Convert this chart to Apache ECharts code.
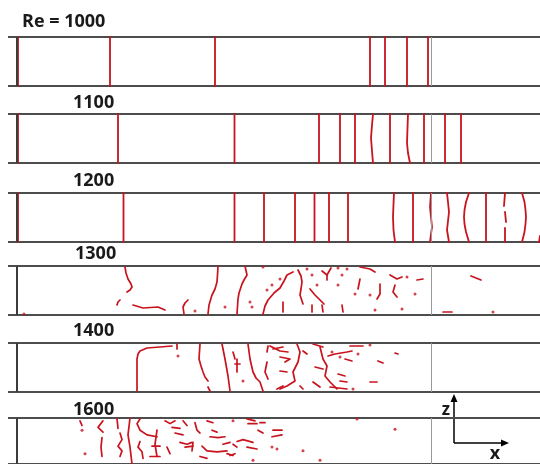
<!DOCTYPE html>
<html>
<head>
<meta charset="utf-8">
<script src="https://cdn.jsdelivr.net/npm/echarts@6/dist/echarts.min.js"></script>
<style>html,body{margin:0;padding:0;background:#fff}#c{width:540px;height:464px}</style>
</head>
<body>
<div id="c"></div>
<script>
// Panel labels (Reynolds numbers)
const panelLabels = ['Re = 1000', '1100', '1200', '1300', '1400', '1600'];
// Streamwise extent of the visible domain (x units), wall at 0, plate end at 414
const xRange = [-9, 523];
const zRange = [0, 49];
const wallX = 0;
const plateEndX = 414;

// Re = 1000 : straight vortex lines (x positions)
const re1000X = [1, 93, 198, 353, 368, 390, 411];
// Re = 1100
const re1100X = [1, 101, 217.5, 302, 323, 338, 373, 407, 428, 444];
const re1100Wavy = [
  [[356, 0], [355, 12], [354, 25], [355, 38], [356, 49]],
  [[393, 0], [391, 10], [390, 20], [390.5, 35], [391, 49]]
];
// Re = 1200
const re1200X = [1, 106.5, 217.5, 247, 278, 297.5, 312, 331, 396, 469];
const re1200Wavy = [
  [[378, 0], [376.5, 12], [376, 25], [376.5, 38], [377, 49]],
  [[413, 0], [414, 8], [415, 15], [414, 25], [413, 35], [414, 49]],
  [[432, 0], [431, 6], [430, 12], [431, 21], [432, 30], [431, 40], [430, 49]],
  [[452, 0], [449, 10], [447.5, 18], [447, 25], [447.5, 32], [449, 40], [452, 49]],
  [[488, 0], [488, 14]], [[489, 20], [488, 30]], [[487, 36], [488, 49]],
  [[505, 0], [507.5, 10], [508.5, 18], [509, 25], [508.5, 32], [507.5, 40], [505, 49]],
  [[522, 0], [523, 6]]
];

// Re = 1300 : broken vortex segments
const re1300Segs = [
  [[108, 48], [109, 42], [111, 36], [114, 31], [115, 28], [113, 25], [110, 23]],
  [[103, 15], [101, 13], [100, 10]],
  [[116, 10], [126, 7], [141, 8], [148, 5]],
  [[171, 15], [168, 12], [166, 8], [167, 1]],
  [[201, 49], [200.5, 40], [200, 33], [198, 26], [195, 20], [192, 10], [191, 1]],
  [[228, 49], [230, 40], [227, 35], [225, 31], [222, 22], [221, 16], [220, 1]],
  [[246, 1], [248, 9], [251, 15], [257, 22], [263, 27], [267, 34], [270, 40], [276, 43]],
  [[281, 45], [284, 39], [285, 33], [284, 26], [283, 20], [286, 11]],
  [[266, 13], [266, 3]],
  [[293, 26], [298, 20], [307, 11]],
  [[305, 44], [310, 40], [314, 47]], [[310, 40], [310, 35]],
  [[343, 36], [341, 26]],
  [[343, 48], [353, 46], [358, 43]],
  [[363, 31], [363, 21], [360, 16]],
  [[373, 40], [380, 36], [385, 38]],
  [[378, 30], [376, 23], [380, 18]],
  [[400, 35], [406, 36]],
  [[295, 10], [295, 3]],
  [[305, 10], [306, 3]],
  [[325, 10], [326, 3]],
  [[426, 3], [435, 3]],
  [[454, 39], [464, 35]]
];
const re1300Dots = [[178, 4], [208, 8], [233, 13], [235, 8], [246, 48], [255, 30], [250, 25], [263, 36],
  [295, 40], [300, 30], [321, 47], [321, 30], [330, 46], [325, 40], [338, 21], [353, 20],
  [390, 38], [398, 21], [358, 5], [385, 6], [476, 3], [7, 1], [290, 46]];

// Re = 1400
const re1400Segs = [
  [[120, 1], [120, 33], [121, 38], [123, 41], [130, 44], [143, 45], [155, 46]],
  [[160, 48], [160, 43]],
  [[183, 48], [182, 33], [184, 26], [186, 20], [188, 15], [191, 11]],
  [[191, 5], [193, 1]],
  [[205, 48], [208, 33], [211, 16], [213, 1]],
  [[216, 40], [218, 33]], [[220, 33], [220, 20]], [[218, 28], [223, 28]],
  [[231, 48], [233, 33], [236, 20], [239, 14], [243, 10], [246, 1]],
  [[251, 46], [250, 40]],
  [[250, 30], [248, 20], [251, 13]],
  [[253, 46], [263, 41], [271, 40]],
  [[256, 43], [266, 45]],
  [[263, 21], [270, 20]],
  [[260, 3], [266, 6]],
  [[263, 35], [273, 33], [268, 30]],
  [[280, 48], [283, 40], [281, 30], [276, 20], [278, 11], [270, 6], [263, 3]],
  [[286, 41], [290, 38]],
  [[296, 48], [306, 45]],
  [[303, 45], [306, 33], [310, 26], [308, 16], [313, 10], [320, 3]],
  [[298, 25], [306, 23]],
  [[311, 36], [318, 38], [330, 40], [335, 41]],
  [[328, 33], [335, 31]],
  [[333, 46], [346, 46]],
  [[378, 39], [381, 38]],
  [[361, 31], [366, 29]],
  [[321, 18], [328, 16]],
  [[323, 11], [330, 10]],
  [[353, 10], [360, 10]],
  [[313, 5], [330, 3]],
  [[283, 6], [286, 3]],
  [[296, 10], [303, 5]]
];
const re1400Dots = [[161, 36], [226, 11], [315, 40], [323, 35], [341, 38], [353, 47], [336, 3]];

// Re = 1600
const re1600Segs = [
  [[63, 46], [65, 41]],
  [[86, 46], [81, 39], [86, 34]],
  [[100, 48], [101, 38]],
  [[85, 28], [84, 18], [85, 8]],
  [[103, 33], [105, 26], [101, 19], [105, 14], [103, 8]],
  [[113, 49], [111, 31], [113, 18], [115, 0]],
  [[123, 48], [120, 43], [123, 36], [130, 31], [140, 29]],
  [[140, 36], [138, 21], [140, 8]],
  [[135, 19], [143, 19]],
  [[133, 8], [143, 8]],
  [[123, 24], [121, 18], [125, 13], [126, 6]],
  [[148, 46], [153, 43], [158, 46]],
  [[150, 18], [153, 11]],
  [[155, 39], [163, 38]],
  [[158, 33], [166, 31]],
  [[166, 46], [170, 41]],
  [[163, 23], [170, 21], [175, 23]],
  [[168, 18], [176, 19]],
  [[178, 44], [180, 36], [183, 33]],
  [[176, 23], [175, 14]],
  [[190, 46], [196, 44]],
  [[193, 29], [201, 28], [208, 29]],
  [[185, 19], [190, 14], [200, 13], [210, 14]],
  [[206, 21], [213, 23]],
  [[210, 11], [216, 9]],
  [[183, 8], [190, 6]],
  [[195, 36], [200, 34]],
  [[230, 48], [238, 46]],
  [[231, 43], [240, 43]],
  [[243, 44], [248, 44]],
  [[241, 36], [246, 33]],
  [[256, 36], [265, 36]],
  [[255, 29], [265, 31]],
  [[220, 24], [226, 26], [236, 23]],
  [[216, 21], [220, 18]],
  [[230, 18], [240, 16]],
  [[213, 9], [218, 11]]
];
const re1600Dots = [[65, 36], [68, 11], [216, 46], [255, 18], [260, 16], [236, 4], [286, 14], [340, 48], [378, 37], [303, 4]];

const panelVortices = [
  re1000X.map(x => [[x, 0], [x, 49]]),
  re1100X.map(x => [[x, 0], [x, 49]]).concat(re1100Wavy),
  re1200X.map(x => [[x, 0], [x, 49]]).concat(re1200Wavy),
  re1300Segs, re1400Segs, re1600Segs
];
const panelDots = [[], [], [], re1300Dots, re1400Dots, re1600Dots];

// layout
const panelTops = [37, 114, 193, 266, 343, 418];
const panelH = 49;
const labelTops = [12, 93, 171, 244, 321, 400];
const labelLefts = [22, 73, 73, 75, 73, 73];
const RED = '#c8141e';

const grids = [], xAxes = [], yAxes = [], series = [], titles = [];
panelTops.forEach((top, i) => {
  grids.push({ left: 8, width: 532, top: top, height: panelH });
  xAxes.push({ type: 'value', gridIndex: i, min: xRange[0], max: xRange[1],
    axisLine: { show: false }, axisTick: { show: false }, axisLabel: { show: false }, splitLine: { show: false } });
  yAxes.push({ type: 'value', gridIndex: i, min: zRange[0], max: zRange[1], interval: 49,
    axisLine: { show: false }, axisTick: { show: false }, axisLabel: { show: false },
    splitLine: { show: true, lineStyle: { color: '#4d4d4d', width: 2 } } });
  series.push({ type: 'line', xAxisIndex: i, yAxisIndex: i, data: [], silent: true, animation: false,
    markLine: { silent: true, symbol: 'none', label: { show: false }, animation: false,
      data: [
        { xAxis: plateEndX, lineStyle: { color: '#9a9a9a', width: 1, type: 'solid' } },
        { xAxis: wallX, lineStyle: { color: '#3c3c3c', width: 2, type: 'solid' } }
      ] } });
  series.push({ type: 'lines', coordinateSystem: 'cartesian2d', xAxisIndex: i, yAxisIndex: i,
    polyline: true, silent: true, animation: false,
    lineStyle: { color: RED, width: i < 3 ? 1.8 : 1.7, opacity: 1, cap: 'round', join: 'round' },
    data: panelVortices[i].map(c => ({ coords: c })) });
  if (panelDots[i].length) {
    series.push({ type: 'scatter', xAxisIndex: i, yAxisIndex: i, data: panelDots[i], symbolSize: 3,
      itemStyle: { color: RED }, silent: true, animation: false });
  }
  titles.push({ text: panelLabels[i], left: labelLefts[i], top: labelTops[i], padding: 0,
    textStyle: { fontFamily: 'Open Sans', fontWeight: 'bold', fontSize: 18, lineHeight: 20, color: '#1a1a1a' } });
});

const chart = echarts.init(document.getElementById('c'), null, { renderer: 'canvas' });
chart.setOption({
  backgroundColor: '#fff',
  animation: false,
  title: titles,
  grid: grids,
  xAxis: xAxes,
  yAxis: yAxes,
  series: series,
  graphic: [
    { type: 'line', shape: { x1: 454, y1: 443, x2: 454, y2: 399 }, style: { stroke: '#000', lineWidth: 1.5 } },
    { type: 'polygon', shape: { points: [[454, 394], [450.5, 402], [457.5, 402]] }, style: { fill: '#000' } },
    { type: 'line', shape: { x1: 454, y1: 443, x2: 503, y2: 443 }, style: { stroke: '#000', lineWidth: 1.5 } },
    { type: 'polygon', shape: { points: [[509, 443], [501, 439.5], [501, 446.5]] }, style: { fill: '#000' } },
    { type: 'text', x: 446, y: 410, style: { text: 'z', fontFamily: 'Open Sans', fontWeight: 'bold', fontSize: 17, fill: '#1a1a1a', align: 'center', verticalAlign: 'middle' } },
    { type: 'text', x: 495, y: 454, style: { text: 'x', fontFamily: 'Open Sans', fontWeight: 'bold', fontSize: 18, fill: '#1a1a1a', align: 'center', verticalAlign: 'middle' } }
  ]
});
</script>
</body>
</html>
